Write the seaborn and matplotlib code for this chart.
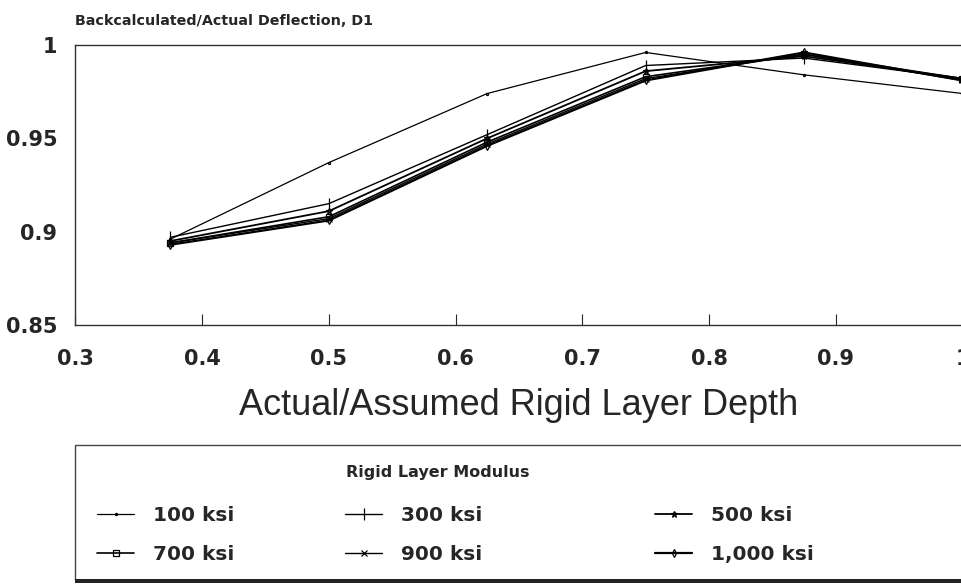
import matplotlib
matplotlib.use("Agg")
import matplotlib.pyplot as plt
import seaborn as sns
import pandas as pd
from matplotlib.patches import Rectangle
from matplotlib.lines import Line2D

sns.set_theme(style="white")
plt.rcParams['font.family'] = ['DejaVu Sans']

depth = [0.375, 0.5, 0.625, 0.75, 0.875, 1.0]
labels = ["100 ksi", "300 ksi", "500 ksi", "700 ksi", "900 ksi", "1,000 ksi"]
v100 = [0.896, 0.937, 0.974, 0.996, 0.984, 0.974]
v300 = [0.897, 0.915, 0.952, 0.989, 0.993, 0.982]
v500 = [0.895, 0.911, 0.950, 0.986, 0.994, 0.982]
v700 = [0.894, 0.908, 0.948, 0.983, 0.995, 0.982]
v900 = [0.894, 0.907, 0.947, 0.982, 0.995, 0.981]
v1000 = [0.893, 0.906, 0.946, 0.981, 0.996, 0.981]
series = [v100, v300, v500, v700, v900, v1000]

markers = [".", "|", "*", "s", "x", "d"]
msizes = [3, 8, 5, 4, 4, 4]
lws = [0.9, 1.0, 1.3, 1.2, 1.0, 1.6]

fig = plt.figure(figsize=(9.61, 5.88), dpi=100)
ax = fig.add_axes([0.0785, 0.4473, 0.923, 0.4762])

handles = []
for lab, vals, m, ms, lw in zip(labels, series, markers, msizes, lws):
    df = pd.DataFrame({"x": depth, "y": vals})
    sns.lineplot(data=df, x="x", y="y", ax=ax, color="black", lw=lw,
                 marker=m, markersize=ms, markerfacecolor="none",
                 markeredgecolor="black", markeredgewidth=0.9, legend=False)
    handles.append(Line2D([], [], color="black", lw=lw, marker=m, markersize=ms,
                          markerfacecolor="none", markeredgecolor="black",
                          markeredgewidth=0.9, label=lab))

ax.set_xlim(0.3, 1.0)
ax.set_ylim(0.85, 1.0)
ax.set_xticks([0.3, 0.4, 0.5, 0.6, 0.7, 0.8, 0.9, 1.0])
ax.set_xticklabels(["0.3", "0.4", "0.5", "0.6", "0.7", "0.8", "0.9", "1"])
ax.set_yticks([0.85, 0.9, 0.95, 1.0])
ax.set_yticklabels(["0.85", "0.9", "0.95", "1"])
ax.tick_params(axis="x", direction="in", length=8, width=0.8, labelsize=15, pad=17, bottom=True)
ax.tick_params(axis="y", direction="in", length=0, labelsize=15, pad=13, left=True)
for t in ax.get_xticklabels() + ax.get_yticklabels():
    t.set_fontweight("bold")
for s in ax.spines.values():
    s.set_color("#333333")
    s.set_linewidth(1.0)
ax.set_xlabel("Actual/Assumed Rigid Layer Depth", fontsize=26, labelpad=14,
              family="Liberation Sans")
ax.set_ylabel("")
fig.text(0.0785, 0.952, "Backcalculated/Actual Deflection, D1", fontsize=10.3,
         fontweight="bold", ha="left", va="bottom")

# legend box
fig.patches.append(Rectangle((75/961, 1-580/588), 900/961, 135/588,
                             transform=fig.transFigure, facecolor="white",
                             edgecolor="#444444", lw=1.0, zorder=0))
fig.patches.append(Rectangle((75/961, 1-583/588), 900/961, 4/588,
                             transform=fig.transFigure, facecolor="#222222",
                             edgecolor="none", zorder=1))
fig.text(438/961, 1-472/588, "Rigid Layer Modulus", fontsize=11.5,
         fontweight="bold", ha="center", va="center")

cols = [[0, 3], [1, 4], [2, 5]]
xs = [97, 345, 655]
for col, x0 in zip(cols, xs):
    leg = fig.legend(handles=[handles[i] for i in col], ncol=1, loc="center left",
                     bbox_to_anchor=(x0/961, 1-535/588), frameon=False,
                     fontsize=14.5, handlelength=1.85, labelspacing=0.95,
                     handletextpad=0.95, borderpad=0, borderaxespad=0)
    for t in leg.get_texts():
        t.set_fontweight("bold")

fig.savefig("out.png", dpi=100)
